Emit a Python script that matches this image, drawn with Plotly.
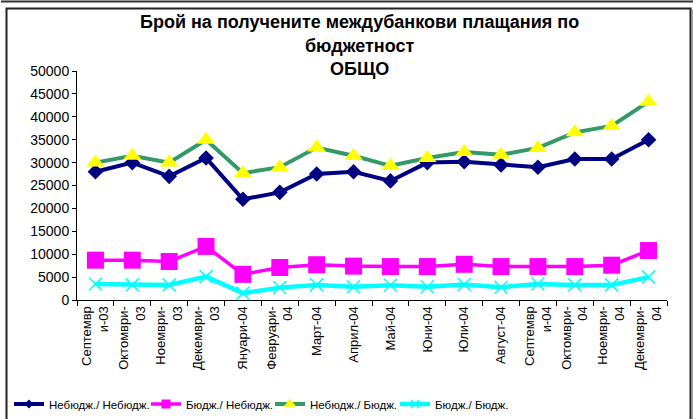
import plotly.graph_objects as go

W, H = 693, 419

months = ["2003-09", "2003-10", "2003-11", "2003-12", "2004-01", "2004-02",
          "2004-03", "2004-04", "2004-05", "2004-06", "2004-07", "2004-08",
          "2004-09", "2004-10", "2004-11", "2004-12"]
tick_labels = ["Септемвр<br>и-03", "Октомври-<br>03", "Ноември-<br>03", "Декември-<br>03",
               "Януари-04", "Февруари-<br>04", "Март-04", "Април-04", "Май-04",
               "Юни-04", "Юли-04", "Август-04", "Септемвр<br>и-04", "Октомври-<br>04",
               "Ноември-<br>04", "Декември-<br>04"]

nonbudget_nonbudget = [28000, 30000, 27000, 31000, 22000, 23500, 27500, 28000,
                       26000, 30000, 30200, 29500, 29000, 30800, 30800, 35000]
budget_nonbudget = [8700, 8700, 8400, 11700, 5600, 7100, 7700, 7400,
                    7300, 7300, 7800, 7300, 7300, 7300, 7600, 10800]
nonbudget_budget = [30000, 31500, 30000, 35000, 27700, 29000, 33300, 31500,
                    29300, 31000, 32300, 31700, 33200, 36600, 38000, 43300]
budget_budget = [3500, 3300, 3300, 5100, 1500, 2700, 3300, 2900,
                 3200, 2900, 3400, 2800, 3500, 3300, 3300, 5000]

series_names = ["Небюдж./ Небюдж.", "Бюдж./ Небюдж.", "Небюдж./ Бюдж.", "Бюдж./ Бюдж."]
title_lines = ["Брой на получените междубанкови плащания по", "бюджетност", "ОБЩО"]
y_ticks = list(range(0, 50001, 5000))

FONT = "Liberation Sans, Arial, sans-serif"


def px_x(p):
    return p / W


def px_y(p):
    return 1 - p / H


series = [
    (nonbudget_nonbudget, series_names[0], "#000080", 4, "diamond", 12, "#000080", 7, "legend"),
    (budget_nonbudget, series_names[1], "#FF00FF", 3.5, "square", 17, "#FF00FF", 9, "legend2"),
    (nonbudget_budget, series_names[2], "#339966", 4, "triangle-up", 16, "#FFFF00", 11, "legend3"),
    (budget_budget, series_names[3], "#00FFFF", 4.5, "x-thin-open", 13, "#00FFFF", 8, "legend4"),
]

fig = go.Figure()
for vals, name, lc, lw, sym, ms, mc, legms, lg in series:
    mline = dict(color=mc, width=1.5) if sym == "x-thin-open" else dict(width=0)
    fig.add_trace(go.Scatter(
        x=months, y=vals, name=name, mode="lines+markers", showlegend=False,
        line=dict(color=lc, width=lw),
        marker=dict(symbol=sym, size=ms, color=mc, line=mline)))
for vals, name, lc, lw, sym, ms, mc, legms, lg in series:
    mline = dict(color=mc, width=1.5) if sym == "x-thin-open" else dict(width=0)
    # legend-only entry with the small legend marker
    fig.add_trace(go.Scatter(
        x=[None], y=[None], name=name, mode="lines+markers", showlegend=True, legend=lg,
        line=dict(color=lc, width=lw),
        marker=dict(symbol=sym, size=legms, color=mc, line=mline)))

annotations = []
for text, yc in zip(title_lines, [22, 46, 69]):
    annotations.append(dict(
        text="<b>%s</b>" % text, x=px_x(360), y=px_y(yc), xref="paper", yref="paper",
        xanchor="center", yanchor="middle", showarrow=False,
        font=dict(family=FONT, size=18, color="black")))

shapes = [
    dict(type="line", xref="paper", yref="paper", x0=px_x(1), x1=px_x(693),
         y0=px_y(1.5), y1=px_y(1.5), line=dict(color="#333333", width=2)),
    dict(type="rect", xref="paper", yref="paper", x0=px_x(6.5), x1=px_x(690.5),
         y0=px_y(8.5), y1=px_y(430), line=dict(color="#222222", width=2)),
    dict(type="line", xref="paper", yref="paper", x0=px_x(692), x1=px_x(692),
         y0=px_y(9), y1=px_y(430), line=dict(color="#888888", width=1.5)),
]


def legend_at(xpix):
    return dict(orientation="h", x=px_x(xpix), y=px_y(404), xanchor="left", yanchor="middle",
                font=dict(family=FONT, size=11.5, color="black"),
                bgcolor="rgba(0,0,0,0)", itemwidth=30, itemsizing="trace",
                borderwidth=0)


fig.update_layout(
    width=W, height=H,
    margin=dict(l=0, r=0, t=0, b=0),
    paper_bgcolor="white", plot_bgcolor="white",
    font=dict(family=FONT, size=13, color="black"),
    showlegend=True,
    legend=legend_at(9),
    legend2=legend_at(146),
    legend3=legend_at(270),
    legend4=legend_at(395),
    annotations=annotations,
    shapes=shapes,
    xaxis=dict(
        domain=[px_x(77), px_x(667)], type="category", range=[-0.5, 15.5],
        tickvals=months, ticktext=tick_labels, tickangle=-90,
        tickson="boundaries", ticks="outside", ticklen=5, tickcolor="black",
        showline=True, linecolor="black", linewidth=1, showgrid=False,
        zeroline=False, automargin=False,
        tickfont=dict(family=FONT, size=13, color="black")),
    yaxis=dict(
        domain=[px_y(300), px_y(71)], range=[0, 50000], tickvals=y_ticks,
        tickformat="d",
        ticks="outside", ticklen=4, tickcolor="black",
        showline=True, linecolor="black", linewidth=1, showgrid=False,
        zeroline=False, automargin=False,
        tickfont=dict(family=FONT, size=14, color="black")),
)

fig.write_html("out.html", config={"displayModeBar": False},
               post_script="document.body.style.margin='0px';")
